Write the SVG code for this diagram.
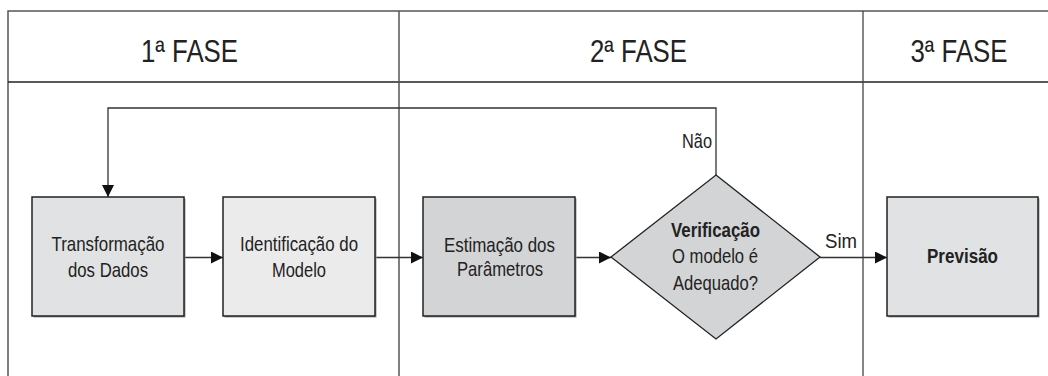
<svg xmlns="http://www.w3.org/2000/svg" width="1048" height="376" viewBox="0 0 1048 376">
<style>
.frame{fill:none;stroke:#555;stroke-width:1.5}
.hdr{font-family:"Liberation Sans Narrow","Liberation Sans",Arial,sans-serif;font-size:31px;fill:#222;text-anchor:middle}
.lbl{font-family:"Liberation Sans Narrow","Liberation Sans",Arial,sans-serif;font-size:21px;fill:#222;text-anchor:middle}
.b{font-weight:bold}
.box{stroke:#222;stroke-width:1.5}
.shadow{fill:#9a9a9a}
.conn{fill:none;stroke:#333;stroke-width:1.3}
</style>
<defs>
<marker id="ah" viewBox="0 0 12 12" refX="12" refY="6" markerWidth="12" markerHeight="12" markerUnits="userSpaceOnUse" orient="auto">
<path d="M0,0 L12,6 L0,12 Z" fill="#111"/>
</marker>
</defs>
<rect width="1048" height="376" fill="#fff"/>
<g id="frame">
<path class="frame" d="M1048,11 H8 V376"/>
<line x1="8" y1="82" x2="1048" y2="82" stroke="#222" stroke-width="1.5"/>
<line x1="399" y1="11" x2="399" y2="376" stroke="#555" stroke-width="1.5"/>
<line x1="863" y1="11" x2="863" y2="376" stroke="#444" stroke-width="1.3"/>
<text class="hdr" x="189.5" y="62" textLength="97" lengthAdjust="spacingAndGlyphs">1ª FASE</text>
<text class="hdr" x="638.5" y="62" textLength="97" lengthAdjust="spacingAndGlyphs">2ª FASE</text>
<text class="hdr" x="959" y="62" textLength="97" lengthAdjust="spacingAndGlyphs">3ª FASE</text>
</g>
<g id="connectors">
<line class="conn" x1="184" y1="257.5" x2="223" y2="257.5" marker-end="url(#ah)"/>
<line class="conn" x1="375" y1="257.5" x2="423" y2="257.5" marker-end="url(#ah)"/>
<line class="conn" x1="575" y1="257.5" x2="611" y2="257.5" marker-end="url(#ah)"/>
<line class="conn" x1="820" y1="257.5" x2="887" y2="257.5" marker-end="url(#ah)"/>
<path class="conn" d="M716,175 V108 H108 V197" marker-end="url(#ah)"/>
<text class="lbl" x="697" y="148" textLength="30" lengthAdjust="spacingAndGlyphs">Não</text>
<text class="lbl" x="841" y="248" textLength="32" lengthAdjust="spacingAndGlyphs">Sim</text>
</g>
<g id="transformacao">
<rect class="shadow" x="33.5" y="198.5" width="152" height="119"/>
<rect class="box" x="32" y="197" width="152" height="119" fill="#e1e2e3"/>
<text class="lbl" x="108" y="251" textLength="113" lengthAdjust="spacingAndGlyphs">Transformação</text>
<text class="lbl" x="108" y="277" textLength="80" lengthAdjust="spacingAndGlyphs">dos Dados</text>
</g>
<g id="identificacao">
<rect class="shadow" x="224.5" y="198.5" width="152" height="119"/>
<rect class="box" x="223" y="197" width="152" height="119" fill="#ebebec"/>
<text class="lbl" x="299" y="251" textLength="118" lengthAdjust="spacingAndGlyphs">Identificação do</text>
<text class="lbl" x="299" y="277" textLength="54" lengthAdjust="spacingAndGlyphs">Modelo</text>
</g>
<g id="estimacao">
<rect class="shadow" x="424.5" y="198.5" width="152" height="119"/>
<rect class="box" x="423" y="197" width="152" height="119" fill="#d3d4d5"/>
<text class="lbl" x="499.5" y="252" textLength="111" lengthAdjust="spacingAndGlyphs">Estimação dos</text>
<text class="lbl" x="500" y="276" textLength="86" lengthAdjust="spacingAndGlyphs">Parâmetros</text>
</g>
<g id="verificacao">
<polygon points="716,175 820,257 716,339 611,257" fill="#d3d4d5" stroke="#222" stroke-width="1.3"/>
<text class="lbl b" x="715.5" y="237" textLength="89" lengthAdjust="spacingAndGlyphs">Verificação</text>
<text class="lbl" x="715" y="263" textLength="86" lengthAdjust="spacingAndGlyphs">O modelo é</text>
<text class="lbl" x="715.5" y="290" textLength="85" lengthAdjust="spacingAndGlyphs">Adequado?</text>
</g>
<g id="previsao">
<rect class="shadow" x="888.5" y="198.5" width="151" height="119"/>
<rect class="box" x="887" y="197" width="151" height="119" fill="#e1e2e3"/>
<text class="lbl b" x="962.5" y="263" textLength="71" lengthAdjust="spacingAndGlyphs">Previsão</text>
</g>
</svg>
